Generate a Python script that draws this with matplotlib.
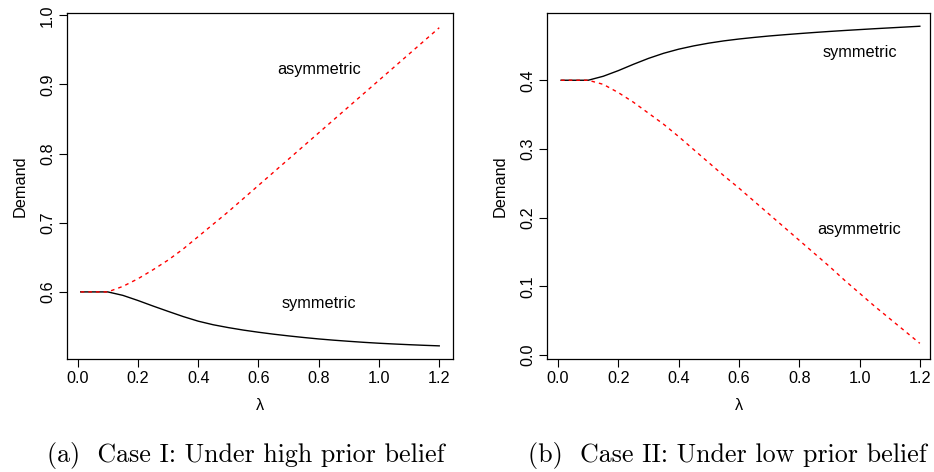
import matplotlib
matplotlib.use("Agg")
import matplotlib.pyplot as plt

# lambda grid shared by both cases
lam = [0.01, 0.05, 0.10, 0.15, 0.20, 0.25, 0.30, 0.35, 0.40, 0.45, 0.50, 0.55, 0.60,
       0.65, 0.70, 0.75, 0.80, 0.85, 0.90, 0.95, 1.00, 1.05, 1.10, 1.15, 1.20]

# Case I: high prior belief
sym_high = [0.600, 0.600, 0.600, 0.5950, 0.5876, 0.5796, 0.5719, 0.5644, 0.5577, 0.5525,
            0.5484, 0.5448, 0.5417, 0.5389, 0.5364, 0.5341, 0.5320, 0.5302, 0.5286, 0.5271,
            0.5258, 0.5247, 0.5237, 0.5228, 0.5220]
asym_high = [0.600, 0.600, 0.600, 0.608, 0.619, 0.632, 0.646, 0.662, 0.680, 0.698,
             0.716, 0.735, 0.754, 0.773, 0.792, 0.811, 0.830, 0.849, 0.868, 0.887,
             0.906, 0.925, 0.944, 0.963, 0.982]

# Case II: low prior belief
sym_low = [0.400, 0.400, 0.400, 0.4058, 0.4140, 0.4232, 0.4318, 0.4392, 0.4452, 0.4500,
           0.4540, 0.4573, 0.4600, 0.4623, 0.4644, 0.4662, 0.4679, 0.4695, 0.4710, 0.4724,
           0.4737, 0.4750, 0.4762, 0.4774, 0.4786]
asym_low = [0.400, 0.400, 0.400, 0.394, 0.382, 0.368, 0.352, 0.336, 0.318, 0.299,
            0.280, 0.261, 0.243, 0.224, 0.205, 0.186, 0.167, 0.148, 0.129, 0.109,
            0.090, 0.071, 0.053, 0.035, 0.017]

xticks = [0.0, 0.2, 0.4, 0.6, 0.8, 1.0, 1.2]
yticks_high = [0.6, 0.7, 0.8, 0.9, 1.0]
yticks_low = [0.0, 0.1, 0.2, 0.3, 0.4]

plt.rcParams['font.family'] = ['Liberation Sans', 'DejaVu Sans']
fs = 11.7

fig = plt.figure(figsize=(9.34, 4.72), dpi=100)
ax1 = fig.add_axes([0.0714, 0.2394, 0.4139, 0.7331])
ax2 = fig.add_axes([0.5857, 0.2394, 0.4101, 0.7331])


def style(ax, yticks):
    ax.set_xticks(xticks)
    ax.set_xticklabels(["%.1f" % t for t in xticks], fontsize=fs)
    ax.set_yticks(yticks)
    ax.set_yticklabels(["%.1f" % t for t in yticks], fontsize=fs,
                       rotation=90, va='center')
    ax.tick_params(direction='out', length=5.5, width=0.8, pad=3)
    for s in ax.spines.values():
        s.set_linewidth(0.9)
    ax.set_xlabel("λ", fontsize=fs, labelpad=8.5)
    ax.set_ylabel("Demand", fontsize=fs, labelpad=9)


ax1.plot(lam, sym_high, color='black', lw=1.0)
ax1.plot(lam, asym_high, color='red', lw=1.0, dashes=(2.6, 2.9))
ax1.text(0.8, 0.921, "asymmetric", fontsize=fs, ha='center', va='center')
ax1.text(0.8, 0.583, "symmetric", fontsize=fs, ha='center', va='center')
ax1.set_xlim(-0.0365, 1.2466)
ax1.set_ylim(0.503, 1.0033)
style(ax1, yticks_high)

ax2.plot(lam, sym_low, color='black', lw=1.0)
ax2.plot(lam, asym_low, color='red', lw=1.0, dashes=(2.6, 2.9))
ax2.text(1.0, 0.441, "symmetric", fontsize=fs, ha='center', va='center')
ax2.text(1.0, 0.182, "asymmetric", fontsize=fs, ha='center', va='center')
ax2.set_xlim(-0.0365, 1.234)
ax2.set_ylim(-0.0058, 0.4979)
style(ax2, yticks_low)

fig.text(246 / 934, 1 - 462 / 472, "(a)  Case I: Under high prior belief",
         fontfamily='cmr10', fontsize=18.7, ha='center', va='baseline')
fig.text(727 / 934, 1 - 462 / 472, "(b)  Case II: Under low prior belief",
         fontfamily='cmr10', fontsize=18.7, ha='center', va='baseline')

fig.savefig("out.png", dpi=100)
